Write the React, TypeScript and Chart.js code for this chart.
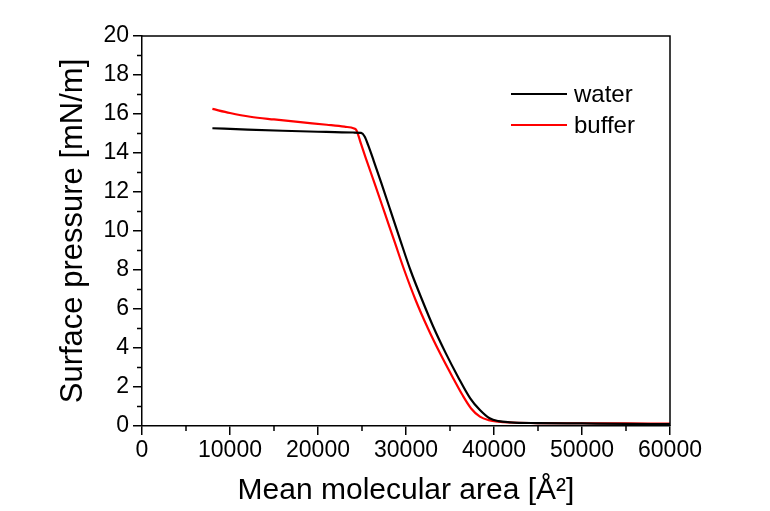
import React, { useEffect, useRef } from "react";
import { Chart, registerables } from "chart.js";

Chart.register(...registerables);

// ---- data ----
const waterX = [8000, 12000, 16000, 20000, 24000, 24900, 25300, 25700, 26300, 27200, 28200, 29300, 30500, 31800, 33100, 34500, 35900, 37300, 38400, 39500, 40500, 41800, 45000, 50000, 55000, 60000];
const waterY = [15.27, 15.2, 15.14, 15.09, 15.05, 15.03, 14.85, 14.4, 13.64, 12.45, 11.1, 9.6, 8.0, 6.5, 5.09, 3.75, 2.53, 1.42, 0.82, 0.4, 0.25, 0.19, 0.15, 0.13, 0.11, 0.1];

const bufferX = [8000, 10000, 12300, 15000, 18000, 21000, 23000, 24100, 24350, 24900, 25400, 26500, 27600, 28700, 29800, 31100, 32500, 33900, 35300, 36400, 37400, 38400, 39400, 40500, 42000, 45000, 50000, 55000, 60000];
const bufferY = [16.26, 16.05, 15.86, 15.72, 15.58, 15.45, 15.35, 15.26, 15.18, 14.45, 13.78, 12.35, 10.9, 9.45, 8.0, 6.45, 5.0, 3.7, 2.5, 1.6, 0.9, 0.48, 0.3, 0.22, 0.18, 0.15, 0.14, 0.13, 0.12];

const seriesLabels = ["water", "buffer"];
const seriesColors = ["#000000", "#ff0000"];

const xMin = 0;
const xMax = 60000;
const xStep = 10000;
const yMin = 0;
const yMax = 20;
const yStep = 2;

const xTitle = "Mean molecular area [Å²]";
const yTitle = "Surface pressure [mN/m]";

const FONT = "'Liberation Sans', Arial, sans-serif";

const toPoints = (xs: number[], ys: number[]) => xs.map((x, i) => ({ x, y: ys[i] }));

const framePlugin = {
  id: "frameAndMinor",
  afterDraw(chart: any) {
    const { ctx, chartArea, scales } = chart;
    const { left, right, top, bottom } = chartArea;
    ctx.save();
    ctx.strokeStyle = "#000";
    ctx.lineWidth = 1.5;
    ctx.beginPath();
    ctx.moveTo(left, top);
    ctx.lineTo(right, top);
    ctx.lineTo(right, bottom);
    ctx.stroke();
    // minor ticks
    ctx.beginPath();
    for (let v = xMin + xStep / 2; v < xMax; v += xStep) {
      const px = scales.x.getPixelForValue(v);
      ctx.moveTo(px, bottom);
      ctx.lineTo(px, bottom + 5);
    }
    for (let v = yMin + yStep / 2; v < yMax; v += yStep) {
      const py = scales.y.getPixelForValue(v);
      ctx.moveTo(left, py);
      ctx.lineTo(left - 5, py);
    }
    ctx.stroke();

    // legend
    const lx0 = right - 159;
    const lx1 = right - 103;
    const tx = right - 96;
    const rows = [top + 58, top + 89];
    chart.data.datasets.forEach((ds: any, i: number) => {
      const y = rows[i];
      ctx.strokeStyle = ds.borderColor;
      ctx.lineWidth = 2;
      ctx.beginPath();
      ctx.moveTo(lx0, y);
      ctx.lineTo(lx1, y);
      ctx.stroke();
      ctx.fillStyle = "#000";
      ctx.font = `24px ${FONT}`;
      ctx.textBaseline = "middle";
      ctx.textAlign = "left";
      ctx.fillText(ds.label, tx, y + 1);
    });
    ctx.restore();
  },
};

export default function App() {
  const canvasRef = useRef<HTMLCanvasElement | null>(null);

  useEffect(() => {
    if (!canvasRef.current) return;
    const chart = new Chart(canvasRef.current, {
      type: "scatter",
      data: {
        datasets: [
          {
            label: seriesLabels[0],
            data: toPoints(waterX, waterY),
            borderColor: seriesColors[0],
            backgroundColor: seriesColors[0],
            showLine: true,
            pointRadius: 0,
            borderWidth: 2.2,
            cubicInterpolationMode: "monotone",
          },
          {
            label: seriesLabels[1],
            data: toPoints(bufferX, bufferY),
            borderColor: seriesColors[1],
            backgroundColor: seriesColors[1],
            showLine: true,
            pointRadius: 0,
            borderWidth: 2.2,
            cubicInterpolationMode: "monotone",
          },
        ],
      },
      options: {
        responsive: false,
        animation: false,
        layout: { padding: { top: 36, right: 100, left: 0, bottom: 0 } },
        plugins: {
          legend: { display: false },
          tooltip: { enabled: false },
        },
        scales: {
          x: {
            type: "linear",
            min: xMin,
            max: xMax,
            afterFit(scale: any) {
              scale.height = 85;
            },
            ticks: {
              stepSize: xStep,
              color: "#000",
              font: { family: FONT, size: 23 },
              padding: 2,
              maxRotation: 0,
              callback: (v: any) => String(v),
            },
            grid: {
              drawOnChartArea: false,
              drawTicks: true,
              tickLength: 9,
              color: "#000",
              lineWidth: 1.5,
            },
            border: { display: true, color: "#000", width: 1.5 },
            title: {
              display: true,
              text: xTitle,
              color: "#000",
              font: { family: FONT, size: 30 },
              padding: { top: 0, bottom: 2 },
            },
          },
          y: {
            type: "linear",
            min: yMin,
            max: yMax,
            afterFit(scale: any) {
              scale.width = 142;
            },
            ticks: {
              stepSize: yStep,
              color: "#000",
              font: { family: FONT, size: 23 },
              padding: 4,
              callback: (v: any) => String(v),
            },
            grid: {
              drawOnChartArea: false,
              drawTicks: true,
              tickLength: 9,
              color: "#000",
              lineWidth: 1.5,
            },
            border: { display: true, color: "#000", width: 1.5 },
            title: {
              display: true,
              text: yTitle,
              color: "#000",
              font: { family: FONT, size: 31 },
              padding: { top: 55, bottom: 0 },
            },
          },
        },
      },
      plugins: [framePlugin],
    } as any);
    return () => chart.destroy();
  }, []);

  return (
    <div style={{ position: "fixed", left: 0, top: 0, width: 770, height: 511, background: "#fff" }}>
      <canvas ref={canvasRef} width={770} height={511} />
    </div>
  );
}
